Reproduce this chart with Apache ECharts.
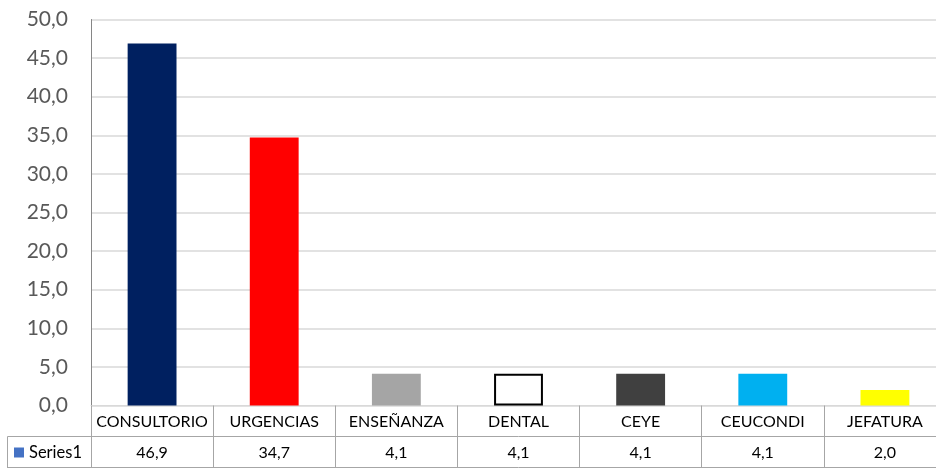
<!DOCTYPE html>
<html>
<head>
<meta charset="utf-8">
<script src="https://cdn.jsdelivr.net/npm/echarts@6/dist/echarts.min.js"></script>
<style>
html,body{margin:0;padding:0;background:#fff;overflow:hidden;width:936px;height:468px;}
#chart{width:946px;height:468px;}
</style>
</head>
<body>
<div id="chart"></div>
<script>
const categories = ['CONSULTORIO', 'URGENCIAS', 'ENSEÑANZA', 'DENTAL', 'CEYE', 'CEUCONDI', 'JEFATURA'];
const values = [46.9, 34.7, 4.1, 4.1, 4.1, 4.1, 2.0];
const seriesName = 'Series1';
const barColors = ['#002060', '#FF0000', '#A5A5A5', '#FFFFFF', '#404040', '#00B0F0', '#FFFF00'];
const yMin = 0, yMax = 50, yStep = 5;

const fmt = v => Number(v).toFixed(1).replace('.', ',');
const FONT = 'Lato';
const tableLine = '#A6A6A6';

const chart = echarts.init(document.getElementById('chart'), null, {renderer: 'canvas'});
chart.setOption({
  animation: false,
  backgroundColor: '#fff',
  grid: {left: 91, top: 19.5, right: 0, height: 386},
  legend: {
    data: [seriesName],
    left: 14, top: 444, padding: 0,
    icon: 'rect', itemWidth: 10, itemHeight: 10,
    textStyle: {fontFamily: FONT, fontSize: 16.5, color: '#000', lineHeight: 16}
  },
  xAxis: [
    {
      type: 'category', data: categories, position: 'bottom',
      axisLine: {show: true, lineStyle: {color: '#D9D9D9', width: 1}},
      axisTick: {show: true, interval: 0, length: 62, lineStyle: {color: tableLine}},
      axisLabel: {interval: 0, margin: 8, fontFamily: FONT, fontSize: 16, color: '#000', lineHeight: 16}
    },
    {
      type: 'category', data: values.map(fmt), position: 'bottom', offset: 31,
      axisLine: {show: true, lineStyle: {color: tableLine}},
      axisTick: {show: false},
      axisLabel: {interval: 0, margin: 8, fontFamily: FONT, fontSize: 16, color: '#000', lineHeight: 16}
    },
    {
      type: 'category', data: categories, position: 'bottom', offset: 62,
      axisLine: {show: true, lineStyle: {color: tableLine}},
      axisTick: {show: false},
      axisLabel: {show: false}
    }
  ],
  yAxis: {
    type: 'value', min: yMin, max: yMax, interval: yStep,
    axisLine: {show: true, lineStyle: {color: '#868686'}},
    axisTick: {show: false},
    splitLine: {lineStyle: {color: '#D9D9D9', width: 1.5}},
    axisLabel: {formatter: fmt, margin: 23, fontFamily: FONT, fontSize: 21, color: '#595959'}
  },
  series: [{
    name: seriesName,
    type: 'bar',
    xAxisIndex: 0,
    barWidth: '40%',
    itemStyle: {color: '#4472C4'},
    data: values.map((v, i) => ({
      value: v,
      itemStyle: i === 3
        ? {color: barColors[i], borderColor: '#000', borderWidth: 2}
        : {color: barColors[i]}
    }))
  }],
  graphic: [
    {type: 'line', shape: {x1: 7.5, y1: 436.5, x2: 91, y2: 436.5}, style: {stroke: tableLine, lineWidth: 1}},
    {type: 'line', shape: {x1: 7.5, y1: 467.5, x2: 91, y2: 467.5}, style: {stroke: tableLine, lineWidth: 1}},
    {type: 'line', shape: {x1: 7.5, y1: 436.5, x2: 7.5, y2: 468}, style: {stroke: tableLine, lineWidth: 1}}
  ]
});
</script>
</body>
</html>
